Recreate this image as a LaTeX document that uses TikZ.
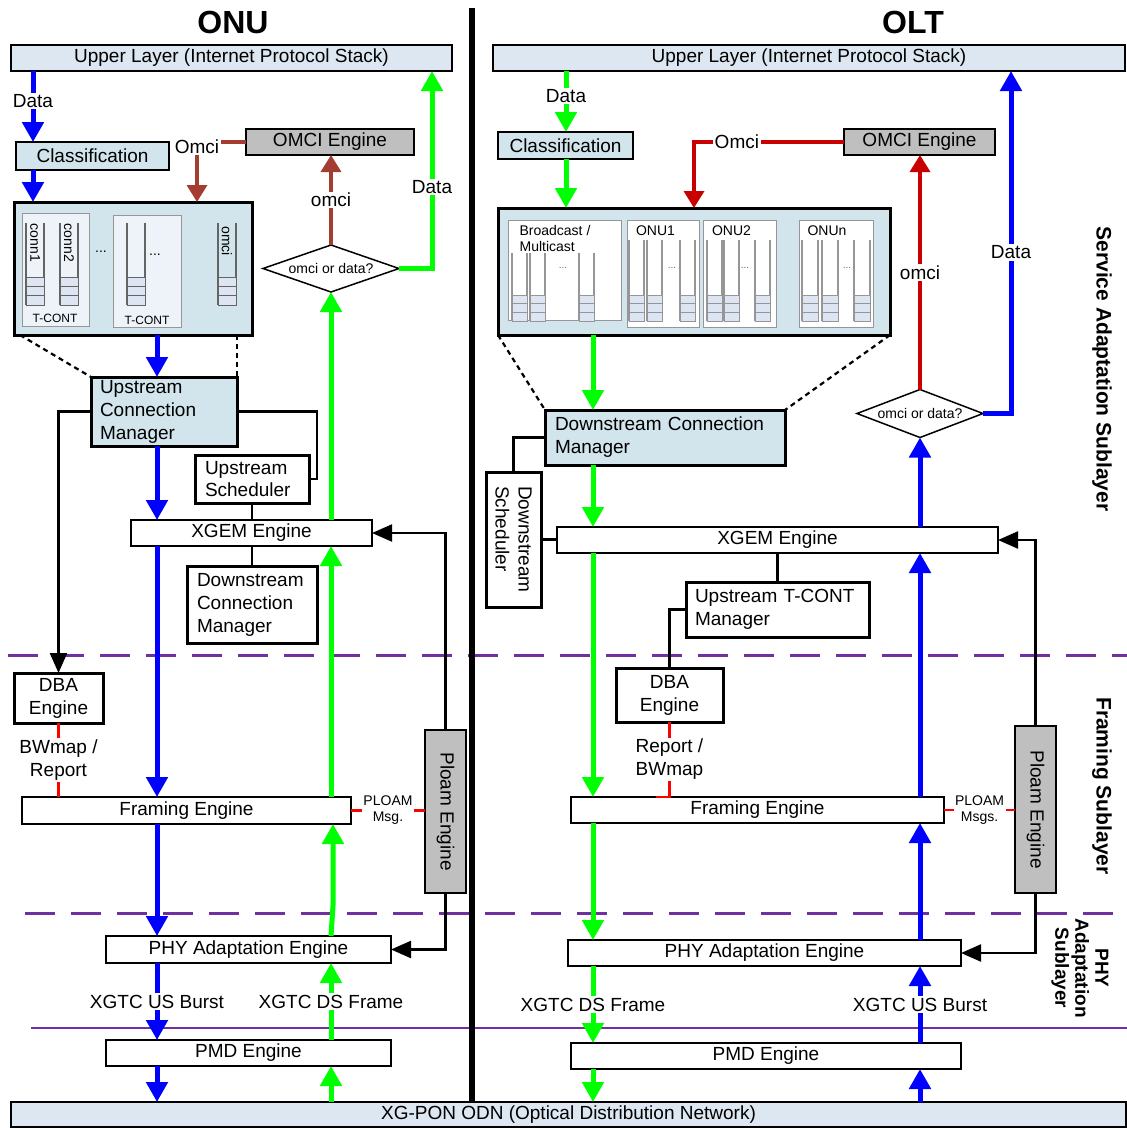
\documentclass[tikz,border=0pt]{standalone}
\usepackage{fontspec}
\setmainfont{Liberation Sans}
\usetikzlibrary{arrows.meta,shapes.geometric,calc}
\definecolor{lbfill}{RGB}{210,229,236}
\definecolor{layerfill}{RGB}{221,231,242}
\definecolor{grayfill}{RGB}{191,191,191}
\definecolor{subfill}{RGB}{238,243,249}
\definecolor{cellfill}{RGB}{220,229,241}
\definecolor{qdark}{RGB}{100,100,100}
\definecolor{qlight}{RGB}{150,150,150}
\definecolor{bluec}{RGB}{0,0,255}
\definecolor{greenc}{RGB}{0,255,0}
\definecolor{brownc}{RGB}{165,60,50}
\definecolor{darkredc}{RGB}{200,0,0}
\definecolor{redc}{RGB}{255,0,0}
\definecolor{purplec}{RGB}{112,48,160}
\newcommand\drawqueue[6]{%
  \draw[draw=#6, line width=1.2pt] (#1,#3) -- (#1,#5) (#2,#3) -- (#2,#5);
  \foreach \qi in {0,1,2}{%
    \draw[draw=#6, line width=0.9pt, fill=cellfill] (#1,{#4+\qi*(#5-#4)/3}) rectangle (#2,{#4+(\qi+1)*(#5-#4)/3});
  }%
}
\tikzset{
 base/.style={inner sep=0pt, outer sep=0pt, font=\fontsize{19}{23}\selectfont},
 thinbox/.style={base, draw, line width=1.5pt, fill=white},
 thickbox/.style={base, draw, line width=3pt, fill=white},
 layerbox/.style={thinbox, fill=layerfill},
 lbthin/.style={thinbox, fill=lbfill},
 lbthick/.style={thickbox, fill=lbfill},
 graybox/.style={base, draw, line width=1.8pt, fill=grayfill},
 subbox/.style={base, draw=qlight, line width=1pt, fill=#1},
 decision/.style={base, draw, line width=1.5pt, fill=white, diamond, font=\fontsize{14}{16}\selectfont},
 lbl/.style={base, fill=white, inner sep=1.5pt, align=center},
 smalltxt/.style={base, font=\fontsize{14}{16}\selectfont},
 tinytxt/.style={base, font=\fontsize{12}{14}\selectfont},
 dotstxt/.style={base, font=\fontsize{10}{12}\selectfont, text=qdark},
 sidelbl/.style={base, rotate=-90, align=center, font=\fontsize{21}{22}\selectfont\bfseries},
 titlelbl/.style={base, font=\fontsize{32}{36}\selectfont\bfseries},
 bluearr/.style={draw=bluec, line width=5pt, -{Triangle[width=21pt,length=20pt]}},
 greenarr/.style={draw=greenc, line width=5pt, -{Triangle[width=21pt,length=20pt]}},
 brownarr/.style={draw=brownc, line width=3.5pt, -{Triangle[width=20pt,length=17pt]}},
 darkredarr/.style={draw=darkredc, line width=3.5pt, -{Triangle[width=20pt,length=17pt]}},
 redline/.style={draw=redc, line width=2.5pt},
 blkline/.style={draw=black, line width=2.2pt},
 blkarr/.style={draw=black, line width=2.2pt, -{Triangle[width=17pt,length=20pt]}},
 dotline/.style={draw=black, line width=2.2pt, dash pattern=on 5pt off 4pt},
 purpdash/.style={draw=purplec, line width=3pt, dash pattern=on 30pt off 16pt},
 purpline/.style={draw=purplec, line width=2.5pt},
}
\begin{document}
\begin{tikzpicture}[x=1pt,y=-1pt]
\useasboundingbox (0,0) rectangle (1127,1128);

% sublayer separators
\coordinate (sepA) at (8,655);
\coordinate (sepB) at (25,913);
\coordinate (sepC) at (31,1028);
\coordinate (sepR) at (1127,0);
\draw[purpdash] (sepA) -- (sepR |- sepA);
\draw[purpdash] (sepB) -- (sepR |- sepB);
\draw[purpline] (sepC) -- (sepR |- sepC);

% lanes
\coordinate (lnb1a) at (33,0);
\coordinate (lnb1) at (157,0);
\coordinate (lng1) at (331,0);
\coordinate (lng1b) at (333,0);
\coordinate (lnd1) at (432,0);
\coordinate (lnom1) at (197,0);
\coordinate (lns1) at (317,0);
\coordinate (kink1) at (333,906);
\coordinate (lng2a) at (566,0);
\coordinate (lng2) at (593,0);
\coordinate (lnb2) at (920,0);
\coordinate (lnd2) at (1011,0);
\coordinate (lnom2) at (694,0);

% titles
\node[titlelbl] (tonu) at (233,22) {ONU};
\node[titlelbl] (tolt) at (913,22) {OLT};

% layers
\node[layerbox, minimum width=441pt, minimum height=26pt] (ul1) at (231.5,58) {Upper Layer (Internet Protocol Stack)};
\node[layerbox, minimum width=632pt, minimum height=26pt] (ul2) at (809,58) {Upper Layer (Internet Protocol Stack)};
\node[layerbox, minimum width=1115pt, minimum height=25pt] (odn) at (568.5,1114.5) {XG-PON ODN (Optical Distribution Network)};

% ================= ONU =================
\node[lbthin, minimum width=153pt, minimum height=28pt] (cls1) at (92.5,156) {Classification};
\node[graybox, minimum width=168pt, minimum height=26pt] (omci1) at (330,142) {OMCI Engine};
\node[lbthick, minimum width=238pt, minimum height=133pt] (q1) at (133,268.5) {};
\node[subbox=subfill, minimum width=67pt, minimum height=113pt] (tc1) at (55.5,269.5) {};
\node[subbox=subfill, minimum width=68pt, minimum height=112pt] (tc2) at (147,271) {};
\drawqueue{26}{44}{223}{277}{305}{qdark}
\drawqueue{60}{78}{223}{277}{305}{qdark}
\drawqueue{127}{145}{223}{277}{305}{qdark}
\drawqueue{218}{236}{223}{277}{305}{qdark}
\node[smalltxt, rotate=-90] (cn1) at (35,243) {conn1};
\node[smalltxt, rotate=-90] (cn2) at (69,243) {conn2};
\node[smalltxt, rotate=-90] (cnom) at (227,241) {omci};
\node[smalltxt] (dt1) at (101,252) {...};
\node[smalltxt] (dt2) at (155,255) {...};
\node[tinytxt] (tcl1) at (55,318) {T-CONT};
\node[tinytxt] (tcl2) at (147,320) {T-CONT};

\node[lbthick, minimum width=146pt, minimum height=69pt, text width=128pt, inner xsep=9pt, align=left] (ucm) at (164,411.5) {Upstream\\Connection\\Manager};
\node[thickbox, minimum width=114pt, minimum height=48pt, text width=94pt, inner xsep=10pt, align=left, font=\fontsize{19}{22}\selectfont] (us1) at (252,479) {Upstream\\Scheduler};
\node[thinbox, minimum width=241pt, minimum height=26pt] (xg1) at (251.5,533) {XGEM Engine};
\node[thickbox, minimum width=130pt, minimum height=77pt, text width=110pt, inner xsep=10pt, align=left] (dcm1) at (252,604.5) {Downstream\\Connection\\Manager};
\node[thickbox, minimum width=89pt, minimum height=50pt, align=center] (dba1) at (58.5,698) {DBA\\Engine};
\node[thinbox, minimum width=329pt, minimum height=27pt] (fr1) at (186.5,810.5) {Framing Engine};
\node[thinbox, minimum width=285pt, minimum height=27pt] (phy1) at (248.5,949.5) {PHY Adaptation Engine};
\node[thinbox, minimum width=285pt, minimum height=26pt] (pmd1) at (248.5,1053) {PMD Engine};
\node[decision, minimum width=136pt, minimum height=47pt, aspect=2.9] (diam1) at (331,268.5) {omci or data?};
\node[graybox, minimum width=41pt, minimum height=163pt] (ploam1) at (445.5,811.5) {};
\node[base, rotate=-90] (ploam1t) at (ploam1.center) {Ploam Engine};

% ================= OLT =================
\node[lbthin, minimum width=135pt, minimum height=27pt] (cls2) at (565.5,145.5) {Classification};
\node[graybox, minimum width=151pt, minimum height=26pt] (omci2) at (919.5,142) {OMCI Engine};
\node[lbthick, minimum width=392pt, minimum height=127pt] (q2) at (694,271.5) {};
\node[subbox=white, minimum width=113pt, minimum height=100pt] (bm) at (564.5,270) {};
\node[subbox=white, minimum width=72pt, minimum height=107pt] (on1) at (663,273.5) {};
\node[subbox=white, minimum width=73pt, minimum height=107pt] (on2) at (739.5,273.5) {};
\node[subbox=white, minimum width=74pt, minimum height=107pt] (onn) at (836,273.5) {};
\drawqueue{512}{527}{253}{295}{321}{qlight}
\drawqueue{530}{545}{253}{295}{321}{qlight}
\drawqueue{579}{594}{253}{295}{321}{qlight}
\drawqueue{629}{644}{240}{295}{321}{qlight}
\drawqueue{647}{662}{240}{295}{321}{qlight}
\drawqueue{680}{695}{240}{295}{321}{qlight}
\drawqueue{707}{722}{240}{295}{321}{qlight}
\drawqueue{724}{739}{240}{295}{321}{qlight}
\drawqueue{755}{770}{240}{295}{321}{qlight}
\drawqueue{802}{818}{240}{295}{321}{qlight}
\drawqueue{822}{838}{240}{295}{321}{qlight}
\drawqueue{854}{870}{240}{295}{321}{qlight}
\node[smalltxt, align=left] (bmt) at (555,238) {Broadcast /\\Multicast};
\node[smalltxt] (on1t) at (655.5,231) {ONU1};
\node[smalltxt] (on2t) at (731.5,231) {ONU2};
\node[smalltxt] (onnt) at (827,231) {ONUn};
\node[dotstxt] (d3) at (563,268) {...};
\node[dotstxt] (d4) at (672,268) {...};
\node[dotstxt] (d5) at (745,268) {...};
\node[dotstxt] (d6) at (847,268) {...};

\node[lbthick, minimum width=240pt, minimum height=55pt, text width=220pt, inner xsep=10pt, align=left] (dcm2) at (665,437.5) {Downstream Connection\\Manager};
\node[thickbox, minimum width=55pt, minimum height=135pt] (ds2) at (513.5,539.5) {};
\node[base, rotate=-90, align=left] (ds2t) at (ds2.center) {Downstream\\Scheduler};
\node[thinbox, minimum width=441pt, minimum height=26pt] (xg2) at (777.5,540) {XGEM Engine};
\node[thickbox, minimum width=183pt, minimum height=55pt, text width=165pt, inner xsep=9pt, align=left] (utm) at (777.5,609.5) {Upstream T-CONT\\Manager};
\node[thickbox, minimum width=107pt, minimum height=54pt, align=center] (dba2) at (669.5,695) {DBA\\Engine};
\node[thinbox, minimum width=373pt, minimum height=26pt] (fr2) at (757.5,810) {Framing Engine};
\node[thinbox, minimum width=393pt, minimum height=26pt] (phy2) at (764.5,953) {PHY Adaptation Engine};
\node[thinbox, minimum width=390pt, minimum height=26pt] (pmd2) at (766,1056) {PMD Engine};
\node[decision, minimum width=126pt, minimum height=48pt, aspect=2.7] (diam2) at (920,413.5) {omci or data?};
\node[graybox, minimum width=41pt, minimum height=167pt] (ploam2) at (1035.5,809.5) {};
\node[base, rotate=-90] (ploam2t) at (ploam2.center) {Ploam Engine};

% side labels
\node[sidelbl] (sl1) at (1102,369) {Service Adaptation Sublayer};
\node[sidelbl] (sl2) at (1102,786) {Framing Sublayer};
\node[sidelbl, font=\fontsize{19}{20}\selectfont\bfseries] (sl3) at (1080,968) {PHY\\Adaptation\\Sublayer};

% central divider
\coordinate (divtop) at (472,8);
\draw[line width=6pt] (divtop) -- (divtop |- odn.north);

% ================= ONU connectors =================
\draw[bluearr] (lnb1a |- ul1.south) -- node[lbl, pos=0.42]{Data} (lnb1a |- cls1.north);
\draw[bluearr] (lnb1a |- cls1.south) -- (lnb1a |- q1.north);
\draw[brownarr] (omci1.west) -| node[lbl, pos=0.5, yshift=-5pt]{Omci} (lnom1 |- q1.north);
\draw[dotline] ($(q1.south west)+(6,0)$) -- (ucm.north west);
\draw[dotline] (ucm.north east |- q1.south) -- (ucm.north east);
\draw[bluearr] (lnb1 |- q1.south) -- (lnb1 |- ucm.north);
\draw[bluearr] (lnb1 |- ucm.south) -- (lnb1 |- xg1.north);
\draw[blkline] (ucm.east) -| (lns1 |- us1.east) -- (us1.east);
\draw[blkline] (us1.south) -- (us1.south |- xg1.north);
\draw[blkline] (dcm1.north |- xg1.south) -- (dcm1.north);
\draw[blkarr] (ucm.west) -| (dba1.north);
\draw[redline] (dba1.south) -- node[lbl]{BWmap /\\Report} (dba1.south |- fr1.north);
\draw[bluearr] (lnb1 |- xg1.south) -- (lnb1 |- fr1.north);
\draw[bluearr] (lnb1 |- fr1.south) -- (lnb1 |- phy1.north);
\draw[bluearr] (lnb1 |- phy1.south) -- node[lbl]{XGTC US Burst} (lnb1 |- pmd1.north);
\draw[bluearr] (lnb1 |- pmd1.south) -- (lnb1 |- odn.north);
\draw[greenarr] (lng1 |- odn.north) -- (lng1 |- pmd1.south);
\draw[greenarr] (lng1 |- pmd1.north) -- node[lbl]{XGTC DS Frame} (lng1 |- phy1.south);
\draw[greenarr] (lng1 |- phy1.north) -- (kink1) -- (lng1b |- fr1.south);
\draw[greenarr] (lng1 |- fr1.north) -- (lng1 |- xg1.south);
\draw[greenarr] (lng1 |- xg1.north) -- (diam1.south);
\draw[greenarr] (diam1.east) -| node[lbl, pos=0.706]{Data} (lnd1 |- ul1.south);
\draw[brownarr] (diam1.north) -- node[lbl]{omci} (diam1.north |- omci1.south);
\draw[blkarr] (ploam1.north) |- (xg1.east);
\draw[blkarr] (ploam1.south) |- (phy1.east);
\draw[redline] (fr1.east) -- node[lbl, font=\fontsize{14}{16}\selectfont]{PLOAM\\Msg.} (ploam1.west |- fr1.east);

% ================= OLT connectors =================
\draw[greenarr] (lng2a |- ul2.south) -- node[lbl, pos=0.41]{Data} (lng2a |- cls2.north);
\draw[greenarr] (lng2a |- cls2.south) -- (lng2a |- q2.north);
\draw[darkredarr] (omci2.west) -| node[lbl, pos=0.357]{Omci} (lnom2 |- q2.north);
\draw[dotline] (q2.south west) -- (dcm2.north west);
\draw[dotline] (q2.south east) -- (dcm2.north east);
\draw[greenarr] (lng2 |- q2.south) -- (lng2 |- dcm2.north);
\draw[blkline] (dcm2.west) -| (ds2.north);
\draw[blkline] (ds2.east) -- (ds2.east -| xg2.west);
\draw[greenarr] (lng2 |- dcm2.south) -- (lng2 |- xg2.north);
\draw[blkline] (utm.north |- xg2.south) -- (utm.north);
\draw[blkline] (utm.west) -| (dba2.north);
\draw[redline] (dba2.south) -- node[lbl]{Report /\\BWmap} (dba2.south |- fr2.north) -- ++(-14,0);
\draw[greenarr] (lng2 |- xg2.south) -- (lng2 |- fr2.north);
\draw[greenarr] (lng2 |- fr2.south) -- (lng2 |- phy2.north);
\draw[greenarr] (lng2 |- phy2.south) -- node[lbl]{XGTC DS Frame} (lng2 |- pmd2.north);
\draw[greenarr] (lng2 |- pmd2.south) -- (lng2 |- odn.north);
\draw[bluearr] (lnb2 |- odn.north) -- (lnb2 |- pmd2.south);
\draw[bluearr] (lnb2 |- pmd2.north) -- node[lbl]{XGTC US Burst} (lnb2 |- phy2.south);
\draw[bluearr] (lnb2 |- phy2.north) -- (lnb2 |- fr2.south);
\draw[bluearr] (lnb2 |- fr2.north) -- (lnb2 |- xg2.south);
\draw[bluearr] (lnb2 |- xg2.north) -- (diam2.south);
\draw[bluearr] (diam2.east) -| node[lbl, pos=0.735]{Data} (lnd2 |- ul2.south);
\draw[darkredarr] (diam2.north) -- node[lbl]{omci} (diam2.north |- omci2.south);
\draw[blkarr] (ploam2.north) |- (xg2.east);
\draw[blkarr] (ploam2.south) |- (phy2.east);
\draw[redline] (fr2.east) -- node[lbl, font=\fontsize{14}{16}\selectfont]{PLOAM\\Msgs.} (ploam2.west |- fr2.east);
\end{tikzpicture}
\end{document}
